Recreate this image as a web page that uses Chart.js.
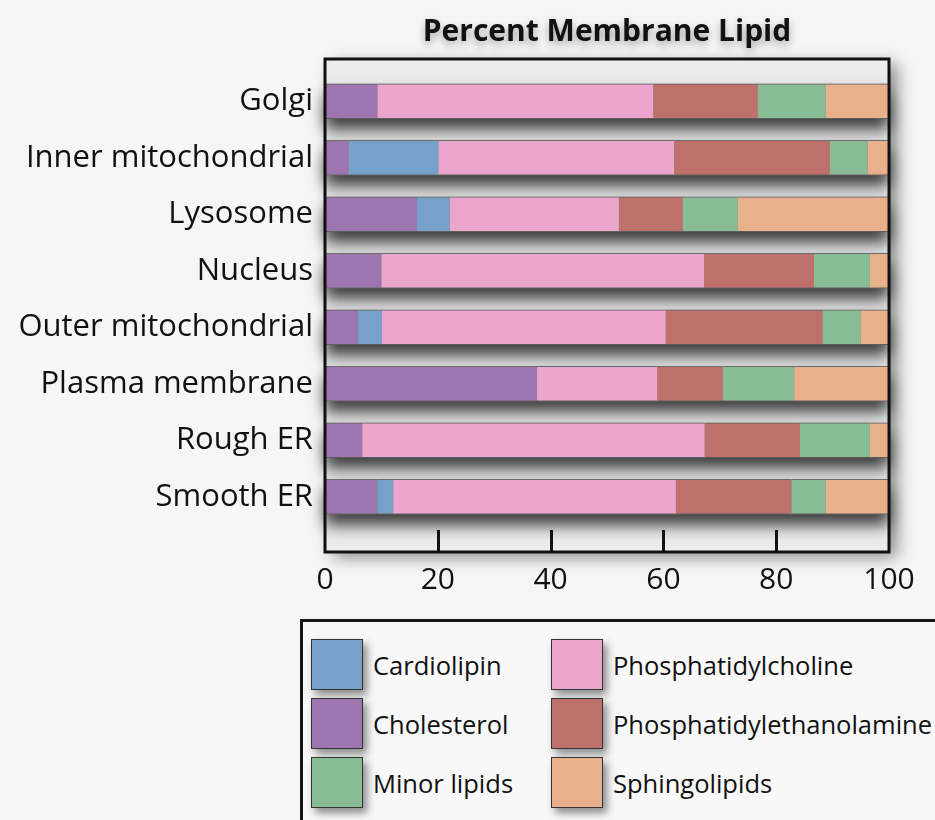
<!DOCTYPE html>
<html>
<head>
<meta charset="utf-8">
<script src="https://cdn.jsdelivr.net/npm/chart.js@4"></script>
<style>
  html, body { margin: 0; padding: 0; background: #f6f6f6; }
  #wrap { position: relative; width: 935px; height: 820px; overflow: hidden; }
  #lipidChart { position: absolute; left: 0; top: 0; }
  #legendBox {
    position: absolute; left: 300px; top: 619px; width: 700px; height: 260px;
    border: 3px solid #151515; box-sizing: border-box; background: #f8f8f8;
    font-family: "Open Sans", sans-serif; font-size: 25.5px; color: #111;
  }
  .lg-item { position: absolute; display: flex; align-items: center; height: 51px; }
  .lg-sw {
    width: 50px; height: 49px; border: 1.5px solid #333; margin-right: 10px;
    box-shadow: 4px 5px 8px rgba(0,0,0,0.45);
  }
</style>
</head>
<body>
<div id="wrap">
  <canvas id="lipidChart" width="935" height="820"></canvas>
  <div id="legendBox"></div>
</div>
<script>
// Percent membrane lipid per organelle membrane (stack order left → right)
const CATEGORIES = ['Golgi', 'Inner mitochondrial', 'Lysosome', 'Nucleus', 'Outer mitochondrial', 'Plasma membrane', 'Rough ER', 'Smooth ER'];
const CHOLESTEROL = [9.3, 4.2, 16.3, 10.0, 5.8, 37.6, 6.6, 9.3];
const CARDIOLIPIN = [0, 15.9, 5.8, 0, 4.3, 0, 0, 2.8];
const PHOSPHATIDYLCHOLINE = [48.9, 41.8, 30.0, 57.2, 50.3, 21.3, 60.7, 50.1];
const PHOSPHATIDYLETHANOLAMINE = [18.5, 27.6, 11.3, 19.5, 27.8, 11.6, 16.9, 20.5];
const MINOR_LIPIDS = [12.1, 6.7, 9.8, 9.9, 6.8, 12.7, 12.4, 6.1];
const SPHINGOLIPIDS = [11.2, 3.8, 26.8, 3.4, 5.0, 16.8, 3.4, 11.2];
const X_TICKS = [0, 20, 40, 60, 80, 100];
const TITLE = 'Percent Membrane Lipid';

const COLORS = {
    Cardiolipin: '#76a1ca',
    Cholesterol: '#9d76b0',
    'Minor lipids': '#87bc95',
    Phosphatidylcholine: '#eca5cc',
    Phosphatidylethanolamine: '#be706b',
    Sphingolipids: '#e9b18b',
};
// legend is laid out column by column, like the original
const LEGEND_ORDER = ['Cardiolipin', 'Cholesterol', 'Minor lipids', 'Phosphatidylcholine', 'Phosphatidylethanolamine', 'Sphingolipids'];

const FONT = '"Open Sans", sans-serif';

function ds(label, data) {
    return {
        label, data,
        backgroundColor: COLORS[label],
        borderColor: 'rgba(70,70,70,0.55)',
        borderWidth: { top: 1, bottom: 1, left: 0, right: 0 },
        borderSkipped: false,
        barThickness: 35,
    };
}

// frame, bar shadows, inside ticks and the title centred over the plot
const framePlugin = {
    id: 'frame',
    box(chart) {
        const x = chart.scales.x, a = chart.chartArea;
        return { l: x.getPixelForValue(0), r: x.getPixelForValue(100), t: a.top - 14, b: a.bottom + 27 };
    },
    beforeDraw(chart) {
        const ctx = chart.ctx, f = this.box(chart);
        ctx.save();
        ctx.shadowColor = 'rgba(0,0,0,0.45)';
        ctx.shadowBlur = 16;
        ctx.shadowOffsetX = 8;
        ctx.shadowOffsetY = 5;
        ctx.fillStyle = '#ececec';
        ctx.fillRect(f.l, f.t, f.r - f.l, f.b - f.t);
        ctx.restore();
    },
    beforeDatasetsDraw(chart) {
        const ctx = chart.ctx, x = chart.scales.x;
        const meta = chart.getDatasetMeta(0);
        ctx.save();
        ctx.shadowColor = 'rgba(0,0,0,0.75)';
        ctx.shadowBlur = 16;
        ctx.shadowOffsetY = 11;
        ctx.fillStyle = '#888';
        meta.data.forEach(bar => {
            const p = bar.getProps(['y', 'height'], true);
            const l = x.getPixelForValue(0), r = x.getPixelForValue(100);
            ctx.fillRect(l, p.y - p.height / 2, r - l, p.height);
        });
        ctx.restore();
    },
    afterDatasetsDraw(chart) {
        const ctx = chart.ctx, x = chart.scales.x, f = this.box(chart);
        ctx.save();
        ctx.strokeStyle = '#111';
        ctx.lineWidth = 3;
        ctx.strokeRect(f.l, f.t, f.r - f.l, f.b - f.t);
        ctx.beginPath();
        X_TICKS.slice(1, -1).forEach(v => {
            const px = Math.round(x.getPixelForValue(v)) + 0.5;
            ctx.moveTo(px, f.b);
            ctx.lineTo(px, f.b - 22);
        });
        ctx.stroke();

        ctx.shadowColor = 'rgba(0,0,0,0.35)';
        ctx.shadowBlur = 8;
        ctx.shadowOffsetY = 4;
        ctx.fillStyle = '#111';
        ctx.font = 'bold 30px ' + FONT;
        ctx.textAlign = 'center';
        ctx.textBaseline = 'middle';
        ctx.fillText(TITLE, (f.l + f.r) / 2, 32);
        ctx.restore();
    },
};

new Chart(document.getElementById('lipidChart'), {
    type: 'bar',
    data: {
        labels: CATEGORIES,
        datasets: [
            ds('Cholesterol', CHOLESTEROL),
            ds('Cardiolipin', CARDIOLIPIN),
            ds('Phosphatidylcholine', PHOSPHATIDYLCHOLINE),
            ds('Phosphatidylethanolamine', PHOSPHATIDYLETHANOLAMINE),
            ds('Minor lipids', MINOR_LIPIDS),
            ds('Sphingolipids', SPHINGOLIPIDS),
        ],
    },
    options: {
        indexAxis: 'y',
        responsive: false,
        animation: false,
        layout: { padding: { left: 0, right: 46, top: 73, bottom: 0 } },
        plugins: {
            legend: { display: false },
            tooltip: { enabled: false },
        },
        scales: {
            x: {
                stacked: true, min: 0, max: 100,
                afterFit: (s) => { s.height = 295; s.paddingLeft = 0; s.paddingRight = 0; },
                afterBuildTicks: (s) => { s.ticks = X_TICKS.map(v => ({ value: v })); },
                grid: { display: false, drawTicks: false },
                border: { display: false },
                ticks: { color: '#111', padding: 37, maxRotation: 0, font: { family: FONT, size: 30 } },
            },
            y: {
                stacked: true,
                afterFit: (s) => { s.width = 325; },
                grid: { display: false, drawTicks: false },
                border: { display: false },
                ticks: { color: '#111', padding: 12, font: { family: FONT, size: 31 } },
            },
        },
    },
    plugins: [framePlugin],
});

// html legend, two columns of three
const box = document.getElementById('legendBox');
LEGEND_ORDER.forEach((name, i) => {
    const col = Math.floor(i / 3), row = i % 3;
    const el = document.createElement('div');
    el.className = 'lg-item';
    el.style.left = (8 + col * 240) + 'px';
    el.style.top = (17 + row * 59) + 'px';
    el.innerHTML = `<div class="lg-sw" style="background:${COLORS[name]}"></div><span>${name}</span>`;
    box.appendChild(el);
});
</script>
</body>
</html>
